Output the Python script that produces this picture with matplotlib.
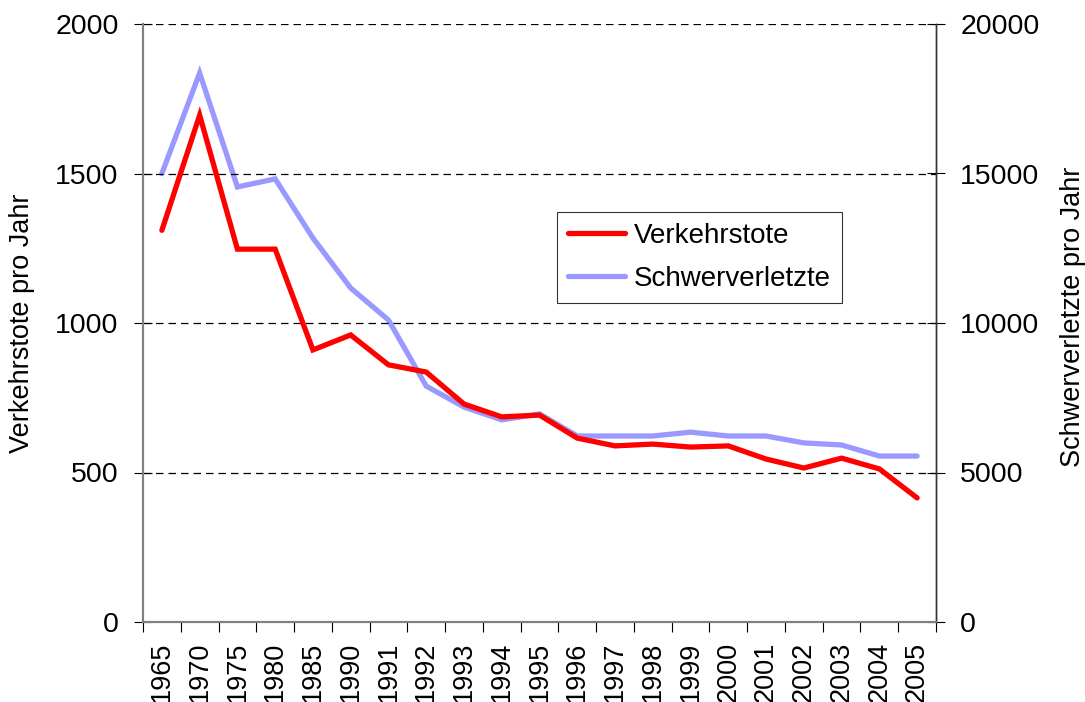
import numpy as np
import matplotlib
matplotlib.use("Agg")
from matplotlib import pyplot as plt
from matplotlib.ticker import FixedLocator, NullFormatter

plt.rcParams['font.family'] = ['Liberation Sans', 'DejaVu Sans']

#-------------- Data ---------------
years = ['1965', '1970', '1975', '1980', '1985', '1990', '1991', '1992', '1993', '1994',
         '1995', '1996', '1997', '1998', '1999', '2000', '2001', '2002', '2003', '2004', '2005']
verkehrstote = [1310, 1695, 1247, 1247, 910, 960, 860, 836, 729, 686,
                692, 615, 589, 595, 585, 589, 545, 515, 548, 512, 415]
schwerverletzte = [15000, 18360, 14550, 14820, 12840, 11170, 10100, 7890, 7190, 6760,
                   6960, 6220, 6220, 6220, 6350, 6220, 6220, 5990, 5920, 5550, 5550]

#-------------- Plot ---------------
fig = plt.figure(figsize=(10.85, 7.02), dpi=100)
ax = fig.add_axes([143 / 1085, 1 - 622 / 702, (936 - 143) / 1085, (622 - 24) / 702])
ax2 = ax.twinx()

x = np.arange(len(years))
l1, = ax.plot(x, verkehrstote, color='#ff0000', linewidth=3.8, solid_capstyle='round',
              solid_joinstyle='miter', label='Verkehrstote', zorder=4)
l2, = ax2.plot(x, schwerverletzte, color='#9999ff', linewidth=3.8, solid_capstyle='round',
               solid_joinstyle='miter', label='Schwerverletzte', zorder=3)
# red line drawn over the blue one
ax.set_zorder(ax2.get_zorder() + 1)
ax.patch.set_visible(False)

ax.set_xlim(-0.5, len(years) - 0.5)
ax.set_ylim(0, 2000)
ax2.set_ylim(0, 20000)
ax.set_yticks([0, 500, 1000, 1500, 2000])
ax2.set_yticks([0, 5000, 10000, 15000, 20000])

for y in [500, 1000, 1500, 2000]:
    ax.axhline(y, color='black', linewidth=0.9, linestyle=(0, (6, 4)), zorder=1)

ax.set_xticks(x)
ax.set_xticklabels(years, rotation=90)
ax.tick_params(axis='x', which='major', length=0, pad=14, labelsize=19.5)
ax.xaxis.set_minor_locator(FixedLocator(np.arange(-0.5, len(years), 1)))
ax.xaxis.set_minor_formatter(NullFormatter())
ax.tick_params(axis='x', which='minor', length=7.5, width=0.8, color='black', direction='out')

ax.tick_params(axis='y', length=13, width=0.8, direction='inout', labelsize=20.5, pad=11)
ax2.tick_params(axis='y', length=13, width=0.8, direction='inout', labelsize=20.5, pad=11)

for a in (ax, ax2):
    a.spines['top'].set_visible(False)
    a.spines['left'].set_color('#808080')
    a.spines['left'].set_linewidth(1.5)
    a.spines['bottom'].set_color('#808080')
    a.spines['bottom'].set_linewidth(1.5)
    a.spines['right'].set_color('#333333')
    a.spines['right'].set_linewidth(1.0)

ax.set_ylabel('Verkehrstote pro Jahr', fontsize=19.5)
ax2.set_ylabel('Schwerverletzte pro Jahr', fontsize=19.5)
ax.yaxis.set_label_coords((35 - 143) / 793, 0.5)
ax2.yaxis.set_label_coords((1060 - 143) / 793, 0.51)

leg = ax.legend(handles=[l1, l2], loc='upper left', bbox_to_anchor=((557 - 143) / 793, (622 - 212) / 598),
                fontsize=20, frameon=True, fancybox=False, edgecolor='black', handlelength=2.05,
                borderpad=0.4, labelspacing=0.6, handletextpad=0.3, borderaxespad=0)
leg.get_frame().set_linewidth(0.8)

fig.savefig('out.png', dpi=100)
